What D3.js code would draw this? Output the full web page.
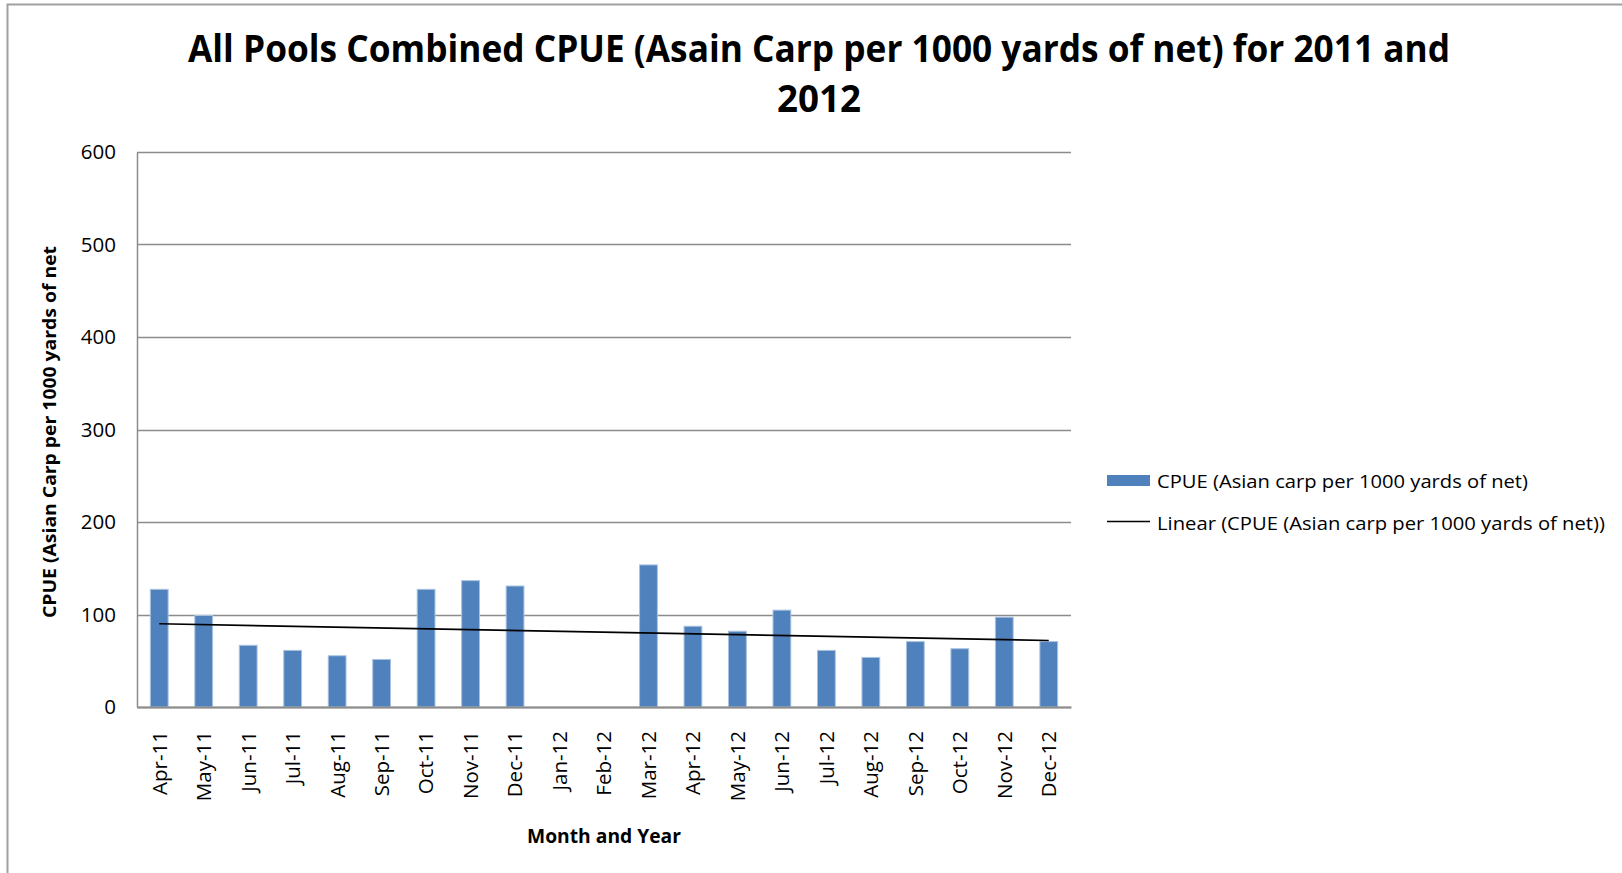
<!DOCTYPE html>
<html>
<head>
<meta charset="utf-8">
<script src="https://cdn.jsdelivr.net/npm/d3@7"></script>
<style>
  body { margin: 0; background: #fff; }
  svg { display: block; }
</style>
</head>
<body>
<div id="viz"></div>
<script>
// data
var months = ["Apr-11", "May-11", "Jun-11", "Jul-11", "Aug-11", "Sep-11", "Oct-11", "Nov-11", "Dec-11",
  "Jan-12", "Feb-12", "Mar-12", "Apr-12", "May-12", "Jun-12", "Jul-12", "Aug-12", "Sep-12", "Oct-12", "Nov-12", "Dec-12"];
var cpue = [127.2, 98.9, 66.7, 61.2, 55.4, 51.4, 127.2, 136.6, 130.8,
  0, 0, 153.6, 87.3, 81.9, 104.7, 61.2, 53.6, 70.7, 63.0, 97.1, 70.7];
var yTicks = [0, 100, 200, 300, 400, 500, 600];

var titleLines = ["All Pools Combined CPUE (Asain Carp per 1000 yards of net) for 2011 and", "2012"];
var yTitle = "CPUE (Asian  Carp per 1000 yards of net";
var xTitle = "Month and Year";
var legendBar = "CPUE (Asian  carp per 1000 yards of net)";
var legendLine = "Linear (CPUE (Asian  carp per 1000 yards of net))";

var width = 1622, height = 873;
var margin = {top: 152, left: 137, right: 551, bottom: 166};
var font = "'Open Sans', sans-serif";

var svg = d3.select("#viz").append("svg")
  .attr("width", width)
  .attr("height", height);

// outer frame (cut off at the page edge)
svg.append("path")
  .attr("d", "M7.5," + height + "V4.5H" + width)
  .attr("fill", "none")
  .attr("stroke", "#a0a0a0")
  .attr("stroke-width", 2);

var x = d3.scaleBand()
  .domain(months)
  .range([margin.left, width - margin.right])
  .paddingInner(0.6)
  .paddingOuter(0.3);

var y = d3.scaleLinear()
  .domain([0, 600])
  .range([height - margin.bottom, margin.top]);

// gridlines
svg.append("g")
  .selectAll("line")
  .data(yTicks)
  .enter()
  .append("line")
  .attr("x1", margin.left)
  .attr("x2", width - margin.right)
  .attr("y1", function(d) { return Math.round(y(d)) + 0.5; })
  .attr("y2", function(d) { return Math.round(y(d)) + 0.5; })
  .attr("stroke", "#8c8c8c")
  .attr("stroke-width", 1.5);

// y axis
var yAxis = svg.append("g")
  .attr("transform", "translate(" + margin.left + ",0)")
  .call(d3.axisLeft(y).tickValues(yTicks).tickSize(0).tickPadding(21));
yAxis.select(".domain").attr("stroke", "#8c8c8c").attr("stroke-width", 1.5);
yAxis.selectAll("text")
  .attr("font-family", font)
  .attr("font-size", 20.5)
  .attr("fill", "#000");

// bars
svg.append("g")
  .selectAll("rect")
  .data(cpue)
  .enter()
  .append("rect")
  .attr("x", function(d, i) { return x(months[i]); })
  .attr("width", x.bandwidth())
  .attr("y", function(d) { return y(d); })
  .attr("height", function(d) { return y(0) - y(d); })
  .attr("fill", "#4f81bd")
  .attr("stroke", "#a9c2e0")
  .attr("stroke-width", function(d) { return d > 0 ? 1 : 0; });

// x axis
var xAxis = svg.append("g")
  .attr("transform", "translate(0," + y(0) + ")")
  .call(d3.axisBottom(x).tickSize(0).tickPadding(0));
xAxis.select(".domain").attr("stroke", "#8c8c8c").attr("stroke-width", 2);
xAxis.selectAll("text")
  .attr("font-family", font)
  .attr("font-size", 20.5)
  .attr("fill", "#000")
  .attr("text-anchor", "end")
  .attr("transform", "translate(0,24) rotate(-90)")
  .attr("x", 0)
  .attr("y", 0)
  .attr("dy", "0.36em");

// linear trendline, least squares over all months
var n = cpue.length;
var xs = d3.range(1, n + 1);
var mx = d3.mean(xs), my = d3.mean(cpue);
var slope = d3.sum(xs, function(v, i) { return (v - mx) * (cpue[i] - my); }) /
  d3.sum(xs, function(v) { return (v - mx) * (v - mx); });
var intercept = my - slope * mx;
var half = x.bandwidth() / 2;

svg.append("line")
  .attr("x1", x(months[0]) + half)
  .attr("x2", x(months[n - 1]) + half)
  .attr("y1", y(intercept + slope * 1))
  .attr("y2", y(intercept + slope * n))
  .attr("stroke", "#000")
  .attr("stroke-width", 1.6);

// titles
svg.append("g")
  .selectAll("text")
  .data(titleLines)
  .enter()
  .append("text")
  .attr("x", 819)
  .attr("y", function(d, i) { return 62 + i * 50; })
  .attr("text-anchor", "middle")
  .attr("font-family", font)
  .attr("font-weight", "bold")
  .attr("font-size", 38)
  .attr("textLength", function(d, i) { return i == 0 ? 1262 : 84; })
  .attr("lengthAdjust", "spacingAndGlyphs")
  .text(function(d) { return d; });

svg.append("text")
  .attr("transform", "translate(56,432) rotate(-90)")
  .attr("text-anchor", "middle")
  .attr("font-family", font)
  .attr("font-weight", "bold")
  .attr("font-size", 18)
  .attr("textLength", 372)
  .attr("lengthAdjust", "spacingAndGlyphs")
  .text(yTitle);

svg.append("text")
  .attr("x", (margin.left + width - margin.right) / 2)
  .attr("y", 843)
  .attr("text-anchor", "middle")
  .attr("font-family", font)
  .attr("font-weight", "bold")
  .attr("font-size", 19)
  .attr("textLength", 154)
  .attr("lengthAdjust", "spacingAndGlyphs")
  .text(xTitle);

// legend
var legend = svg.append("g").attr("transform", "translate(1107,0)");
legend.append("rect")
  .attr("x", 0).attr("y", 475)
  .attr("width", 43).attr("height", 11)
  .attr("fill", "#4f81bd");
legend.append("line")
  .attr("x1", 0).attr("x2", 43)
  .attr("y1", 521.5).attr("y2", 521.5)
  .attr("stroke", "#000")
  .attr("stroke-width", 1.6);
legend.selectAll("text")
  .data([legendBar, legendLine])
  .enter()
  .append("text")
  .attr("x", 50)
  .attr("y", function(d, i) { return 481 + i * 42; })
  .attr("dy", "0.35em")
  .attr("font-family", font)
  .attr("font-size", 19)
  .attr("textLength", function(d, i) { return i == 0 ? 371 : 448; })
  .attr("lengthAdjust", "spacingAndGlyphs")
  .text(function(d) { return d; });
</script>
</body>
</html>
